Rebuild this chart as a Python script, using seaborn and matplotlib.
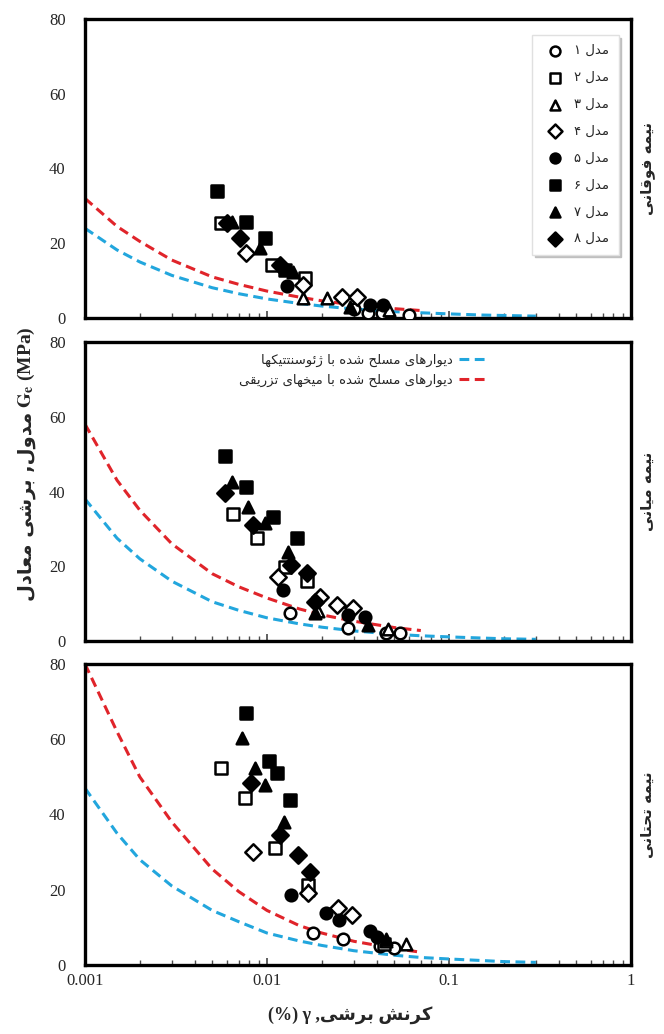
import matplotlib
matplotlib.use("Agg")
import matplotlib.pyplot as plt
import matplotlib.patheffects as pe
from matplotlib.collections import PathCollection
import seaborn as sns

sns.set_theme(style="white")
plt.rcParams["font.family"] = ["Liberation Serif", "DejaVu Sans"]
plt.rcParams["mathtext.fontset"] = "stix"

# --- minimal Persian shaping (matplotlib has no bidi / joining) ---
FORMS = {
    "ا": ("\uFE8D", "\uFE8E", None, None), "ب": ("\uFE8F", "\uFE90", "\uFE91", "\uFE92"),
    "ت": ("\uFE95", "\uFE96", "\uFE97", "\uFE98"), "ح": ("\uFEA1", "\uFEA2", "\uFEA3", "\uFEA4"),
    "خ": ("\uFEA5", "\uFEA6", "\uFEA7", "\uFEA8"), "د": ("\uFEA9", "\uFEAA", None, None),
    "ر": ("\uFEAD", "\uFEAE", None, None), "ز": ("\uFEAF", "\uFEB0", None, None),
    "ژ": ("\uFB8A", "\uFB8B", None, None), "س": ("\uFEB1", "\uFEB2", "\uFEB3", "\uFEB4"),
    "ش": ("\uFEB5", "\uFEB6", "\uFEB7", "\uFEB8"), "ع": ("\uFEC9", "\uFECA", "\uFECB", "\uFECC"),
    "ف": ("\uFED1", "\uFED2", "\uFED3", "\uFED4"), "ق": ("\uFED5", "\uFED6", "\uFED7", "\uFED8"),
    "ک": ("\uFB8E", "\uFB8F", "\uFB90", "\uFB91"), "ل": ("\uFEDD", "\uFEDE", "\uFEDF", "\uFEE0"),
    "م": ("\uFEE1", "\uFEE2", "\uFEE3", "\uFEE4"), "ن": ("\uFEE5", "\uFEE6", "\uFEE7", "\uFEE8"),
    "ه": ("\uFEE9", "\uFEEA", "\uFEEB", "\uFEEC"), "و": ("\uFEED", "\uFEEE", None, None),
    "ئ": ("\uFE89", "\uFE8A", "\uFE8B", "\uFE8C"), "ی": ("\uFBFC", "\uFBFD", "\uFBFE", "\uFBFF"),
}


def fa(s):
    out = []
    for i, ch in enumerate(s):
        if ch not in FORMS:
            out.append(ch)
            continue
        prev = s[i - 1] if i > 0 else None
        nxt = s[i + 1] if i + 1 < len(s) else None
        jp = prev in FORMS and FORMS[prev][2] is not None
        jn = FORMS[ch][2] is not None and nxt in FORMS
        iso, fin, ini, med = FORMS[ch]
        out.append(med if jp and jn else fin if jp else ini if jn else iso)
    return "".join(out)[::-1]


# --- data ---
model_labels = ["مدل ۱", "مدل ۲", "مدل ۳", "مدل ۴", "مدل ۵", "مدل ۶", "مدل ۷", "مدل ۸"]
panel_labels = ["نیمه فوقانی", "نیمه میانی", "نیمه تحتانی"]
line_labels = ["دیوارهای مسلح شده با ژئوسنتتیکها", "دیوارهای مسلح شده با میخهای تزریقی"]
markers = ["o", "s", "^", "D", "o", "s", "^", "D"]
filled = [False, False, False, False, True, True, True, True]

top_x = [[0.030, 0.036, 0.043, 0.060], [0.0056, 0.0106, 0.0162], [0.0158, 0.0213, 0.047],
         [0.0077, 0.0158, 0.0257, 0.0311], [0.0128, 0.0368, 0.0436],
         [0.0053, 0.0077, 0.0098, 0.0126], [0.0064, 0.0091, 0.0139, 0.0286],
         [0.0060, 0.0071, 0.0118]]
top_y = [[2.5, 1.3, 1.3, 0.8], [25.5, 14.2, 10.6], [5.3, 5.3, 2.1],
         [17.3, 8.8, 5.7, 5.7], [8.6, 3.5, 3.5],
         [34.0, 25.7, 21.3, 12.8], [25.7, 18.7, 12.4, 3.0],
         [25.5, 21.4, 14.2]]

mid_x = [[0.0134, 0.0279, 0.045, 0.054], [0.0065, 0.0088, 0.0125, 0.0165], [0.019, 0.046],
         [0.0115, 0.0195, 0.0241, 0.0296], [0.0123, 0.0279, 0.0345],
         [0.0059, 0.0077, 0.0108, 0.0146], [0.0064, 0.0079, 0.0097, 0.0131, 0.0183, 0.0361],
         [0.0059, 0.0084, 0.0136, 0.0165, 0.0183]]
mid_y = [[7.4, 3.4, 2.1, 2.1], [34.1, 27.5, 19.9, 16.0], [8.0, 3.2],
         [17.2, 11.8, 9.6, 8.7], [13.6, 7.0, 6.5],
         [49.5, 41.3, 33.2, 27.5], [42.6, 35.9, 31.5, 23.9, 7.4, 4.3],
         [39.5, 31.0, 20.3, 18.1, 10.5]]

bot_x = [[0.018, 0.026, 0.042, 0.050], [0.0056, 0.0076, 0.0110, 0.0169, 0.044], [0.0169, 0.045, 0.058],
         [0.0084, 0.0169, 0.0247, 0.0292], [0.0136, 0.0212, 0.025, 0.037, 0.040],
         [0.0077, 0.0102, 0.0113, 0.0134], [0.0073, 0.0086, 0.0097, 0.0124, 0.045],
         [0.0082, 0.0118, 0.0148, 0.0172]]
bot_y = [[8.6, 7.0, 5.0, 4.5], [52.3, 44.3, 31.0, 21.3, 5.5], [20.0, 6.5, 5.5],
         [30.1, 19.1, 15.1, 13.3], [18.6, 13.7, 12.0, 9.0, 7.5],
         [66.9, 54.1, 51.0, 43.9], [60.3, 52.3, 47.9, 38.1, 7.0],
         [48.3, 34.6, 29.3, 24.8]]

blue_x = [0.001, 0.0015, 0.002, 0.003, 0.005, 0.007, 0.01, 0.015, 0.02, 0.03, 0.05, 0.07, 0.1, 0.15, 0.2, 0.3]
top_blue = [24, 18.2, 15.0, 11.4, 8.1, 6.5, 5.1, 3.9, 3.2, 2.4, 1.7, 1.4, 1.1, 0.8, 0.67, 0.5]
mid_blue = [38, 27.5, 22, 16, 10.5, 8.2, 6.2, 4.6, 3.7, 2.7, 1.8, 1.4, 1.1, 0.8, 0.6, 0.45]
bot_blue = [47, 35, 28, 21, 14.5, 11.5, 8.5, 6.4, 5.2, 3.8, 2.6, 2.0, 1.6, 1.2, 0.9, 0.7]

red_x = [0.001, 0.0015, 0.002, 0.003, 0.005, 0.007, 0.01, 0.015, 0.02, 0.03, 0.05, 0.07]
top_red = [32, 24.5, 20.5, 15.5, 11, 9, 7.2, 5.6, 4.6, 3.5, 2.5, 2.0]
mid_red = [58, 43, 35, 26, 18, 14.5, 11.5, 8.6, 7.0, 5.3, 3.6, 2.8]
bot_red = [80, 62, 50, 38, 25.5, 19.5, 14.5, 10.5, 8.5, 6.3, 4.4, 3.4]

BLUE = "#22a6dd"
RED = "#e0242a"
DASH = (0, (3.2, 1.8))

fig = plt.figure(figsize=(6.64, 10.34), dpi=100)
L, R = 85 / 664, 631 / 664
tops = [19, 342, 664]
bots = [318, 641, 965]
axes = [fig.add_axes([L, 1 - b / 1034, R - L, (b - t) / 1034]) for t, b in zip(tops, bots)]

panels = [(top_x, top_y, top_blue, top_red), (mid_x, mid_y, mid_blue, mid_red),
          (bot_x, bot_y, bot_blue, bot_red)]

for i, (ax, (px, py, gb, gr)) in enumerate(zip(axes, panels)):
    sns.lineplot(x=blue_x, y=gb, ax=ax, color=BLUE, lw=2.2, linestyle=DASH,
                 label=fa(line_labels[0]) if i == 1 else None, legend=False)
    sns.lineplot(x=red_x, y=gr, ax=ax, color=RED, lw=2.2, linestyle=DASH,
                 label=fa(line_labels[1]) if i == 1 else None, legend=False)
    for k in range(8):
        sns.scatterplot(x=px[k], y=py[k], ax=ax, marker=markers[k], s=70,
                        facecolor="black" if filled[k] else "white",
                        edgecolor="black", linewidth=1.8, zorder=3,
                        label=fa(model_labels[k]) if i == 0 else None, legend=False)
    ax.set_xscale("log")
    ax.set_xlim(0.001, 1)
    ax.set_ylim(0, 80)
    ax.set_yticks([0, 20, 40, 60, 80])
    ax.tick_params(axis="y", length=0, pad=14, labelsize=12)
    ax.tick_params(axis="x", which="both", direction="in", bottom=True, color="0.3", labelsize=12, pad=6)
    ax.tick_params(axis="x", which="major", length=5)
    ax.tick_params(axis="x", which="minor", length=3.5)
    if i < 2:
        ax.set_xticklabels([])
    else:
        ax.set_xticks([0.001, 0.01, 0.1, 1])
        ax.set_xticklabels(["0.001", "0.01", "0.1", "1"])
    ax.set_xlabel("")
    ax.set_ylabel("")
    for sp in ax.spines.values():
        sp.set_color("black")
        sp.set_linewidth(2.4)
        sp.set_path_effects([pe.SimplePatchShadow(offset=(2, -2), shadow_rgbFace="0.55", alpha=1), pe.Normal()])
    ax.text(1.03, 0.5, fa(panel_labels[i]), transform=ax.transAxes, rotation=90,
            ha="center", va="center", fontsize=11, fontweight="bold", family=["DejaVu Sans"])

# legend of models (top panel)
h, lab = axes[0].get_legend_handles_labels()
sel = [(a, b) for a, b in zip(h, lab) if isinstance(a, PathCollection)]
axes[0].legend([a for a, _ in sel], [b for _, b in sel], loc="upper right",
               bbox_to_anchor=(0.982, 0.955), frameon=True, fancybox=False,
               shadow={"color": "0.75", "alpha": 1}, edgecolor="0.88",
               prop={"family": ["DejaVu Sans"], "size": 9.5}, labelspacing=1.05,
               handletextpad=0.5, borderpad=0.7, borderaxespad=0.2, markerscale=0.85)

# legend of curves (middle panel)
h, lab = axes[1].get_legend_handles_labels()
axes[1].legend(h[:2], lab[:2], loc="upper center", bbox_to_anchor=(0.51, 1.0), frameon=False,
               markerfirst=False, handlelength=2.2, handletextpad=0.5,
               prop={"family": ["DejaVu Sans"], "size": 9.5}, labelspacing=0.5)

# y label: Persian part below, Latin part above (no mathtext mixing with Arabic glyphs)
ysplit = 1 - 412 / 1034
fig.text(0.040, ysplit, fa("برشی معادل") + " ," + fa("مدول"), rotation=90,
         ha="center", va="top", fontsize=14, fontweight="bold", family=["DejaVu Sans"])
fig.text(0.040, ysplit + 0.004, r"$\mathbf{G_e}$ (MPa)", rotation=90,
         ha="center", va="bottom", fontsize=14, fontweight="bold")
fig.text((L + R) / 2 - 0.012, 0.018, "(%) γ ," + fa("کرنش برشی"), ha="center", va="center",
         fontsize=13, fontweight="bold")

fig.savefig("out.png", dpi=100)
